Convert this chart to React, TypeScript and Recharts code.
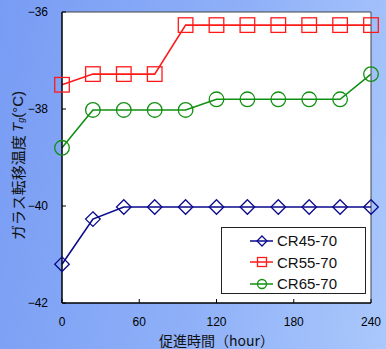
import { LineChart, Line, XAxis, YAxis, CartesianGrid, ReferenceLine, Legend, Label } from 'recharts';

const hours = [0, 24, 48, 72, 96, 120, 144, 168, 192, 216, 240];
const cr45 = [-41.2, -40.27, -40.02, -40.02, -40.02, -40.02, -40.02, -40.02, -40.02, -40.02, -40.02];
const cr55 = [-37.5, -37.28, -37.28, -37.28, -36.27, -36.27, -36.27, -36.27, -36.27, -36.27, -36.27];
const cr65 = [-38.8, -38.02, -38.02, -38.02, -38.02, -37.8, -37.8, -37.8, -37.8, -37.8, -37.28];
const xTicks = [0, 60, 120, 180, 240];
const yTicks = [-42, -40, -38, -36];

const series = [
  { key: 'cr45', name: 'CR45-70', color: '#0a0a8c', marker: 'diamond', values: cr45 },
  { key: 'cr55', name: 'CR55-70', color: '#ff1a1a', marker: 'square', values: cr55 },
  { key: 'cr65', name: 'CR65-70', color: '#109010', marker: 'circle', values: cr65 },
];

const data = hours.map((h, i) => ({ h, cr45: cr45[i], cr55: cr55[i], cr65: cr65[i] }));

const NUM_FONT = '"Liberation Sans", Arial, sans-serif';
const JP_FONT = '"Noto Sans CJK JP", sans-serif';

function Marker({ kind, cx, cy, s, color }: { kind: string; cx: number; cy: number; s: number; color: string }) {
  if (kind === 'diamond') {
    const points = `${cx},${cy - s} ${cx + s},${cy} ${cx},${cy + s} ${cx - s},${cy}`;
    return <polygon points={points} fill="none" stroke={color} strokeWidth={1.3} />;
  }
  if (kind === 'square') {
    return <rect x={cx - s} y={cy - s} width={s * 2} height={s * 2} fill="none" stroke={color} strokeWidth={1.3} />;
  }
  return <circle cx={cx} cy={cy} r={s} fill="none" stroke={color} strokeWidth={1.3} />;
}

function LegendBox() {
  return (
    <div style={{ width: 143, height: 63, background: '#fff', border: '1px solid #222', paddingTop: 2 }}>
      {series.map((s) => (
        <div key={s.key} style={{ display: 'flex', alignItems: 'center', height: 21.5 }}>
          <svg width={52} height={20} style={{ flex: 'none' }}>
            <line x1={28} x2={51} y1={10} y2={10} stroke={s.color} strokeWidth={1.5} />
            <Marker kind={s.marker} cx={40} cy={10} s={s.marker === 'diamond' ? 5 : 4.5} color={s.color} />
          </svg>
          <span style={{ fontFamily: NUM_FONT, fontSize: 15, color: '#111', marginLeft: 3 }}>{s.name}</span>
        </div>
      ))}
    </div>
  );
}

function YTitle({ viewBox }: any) {
  const x = viewBox.x + 5;
  const y = viewBox.y + viewBox.height / 2 + 8;
  return (
    <text
      x={x}
      y={y}
      transform={`rotate(-90, ${x}, ${y})`}
      textAnchor="middle"
      dominantBaseline="central"
      fontFamily={JP_FONT}
      fontSize={15}
      fill="#111"
    >
      ガラス転移温度 <tspan fontStyle="italic" fontFamily={NUM_FONT}>T</tspan>
      <tspan fontSize={9} dy={4} fontStyle="italic" fontFamily={NUM_FONT}>g</tspan>
      <tspan dy={-4} fontFamily={NUM_FONT}>(°C)</tspan>
    </text>
  );
}

export default function App() {
  return (
    <div
      style={{
        position: 'fixed',
        left: 0,
        top: 0,
        width: 386,
        height: 349,
        background: 'linear-gradient(100deg, #789cf4 0%, #8fb0f8 55%, #aac8fc 100%)',
      }}
    >
      <LineChart width={386} height={349} data={data} margin={{ top: 12, right: 15, bottom: 16, left: 12 }}>
        <CartesianGrid horizontal={false} vertical={false} fill="#fff" />
        <ReferenceLine y={-36} stroke="#444" strokeWidth={1} />
        <ReferenceLine x={240} stroke="#444" strokeWidth={1} />
        <XAxis
          dataKey="h"
          type="number"
          domain={[0, 240]}
          ticks={xTicks}
          height={30}
          tickSize={-4}
          tickMargin={18}
          axisLine={{ stroke: '#000', strokeWidth: 1.5 }}
          tickLine={{ stroke: '#000' }}
          tick={{ fill: '#000', fontSize: 12, fontFamily: NUM_FONT }}
        >
          <Label
            value="促進時間（hour）"
            position="bottom"
            offset={3}
            style={{ fontFamily: JP_FONT, fontSize: 14, fill: '#111' }}
          />
        </XAxis>
        <YAxis
          type="number"
          domain={[-42, -36]}
          ticks={yTicks}
          width={50}
          tickSize={-4}
          tickMargin={18}
          axisLine={{ stroke: '#000', strokeWidth: 1.5 }}
          tickLine={{ stroke: '#000' }}
          tick={{ fill: '#000', fontSize: 12, fontFamily: NUM_FONT }}
          tickFormatter={(v: number) => String(v).replace('-', '−')}
        >
          <Label content={<YTitle />} />
        </YAxis>
        {series.map((s) => (
          <Line
            key={s.key}
            dataKey={s.key}
            name={s.name}
            stroke={s.color}
            strokeWidth={1.6}
            isAnimationActive={false}
            dot={(p: any) => (
              <Marker key={`${s.key}-${p.index}`} kind={s.marker} cx={p.cx} cy={p.cy} s={7.3} color={s.color} />
            )}
            activeDot={false}
          />
        ))}
        <Legend
          layout="vertical"
          align="center"
          verticalAlign="middle"
          content={() => <LegendBox />}
          wrapperStyle={{ position: 'absolute', left: 221, top: 227, width: 145, height: 65 }}
        />
      </LineChart>
    </div>
  );
}
